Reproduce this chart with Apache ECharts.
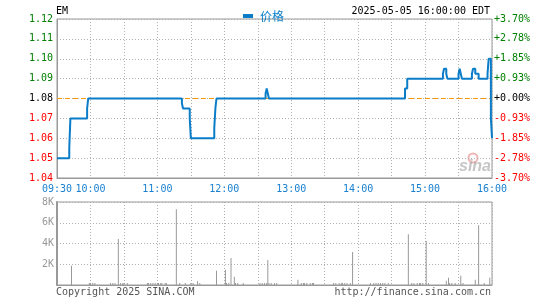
<!DOCTYPE html>
<html>
<head>
<meta charset="utf-8">
<script src="https://cdn.jsdelivr.net/npm/echarts@6/dist/echarts.min.js"></script>
<style>html,body{margin:0;padding:0;background:#fff}#c{width:545px;height:300px}</style>
</head>
<body>
<div id="c"></div>
<script>
// ---- data (minutes after 09:30) ----
var symbol = 'EM';
var stamp = '2025-05-05 16:00:00 EDT';
var seriesName = '价格';
var prevClose = 1.08;
var priceTimes = [0, 11, 12, 27, 28, 112, 113, 119, 120, 141, 142, 143, 187, 188, 189, 190, 312, 314, 346, 347, 349, 350, 360, 361, 362, 363, 372, 373, 375, 378, 386, 387, 389, 390];
var prices     = [1.05, 1.055, 1.07, 1.075, 1.08, 1.0775, 1.075, 1.07, 1.06, 1.065, 1.075, 1.08, 1.0825, 1.085, 1.0825, 1.08, 1.085, 1.09, 1.0925, 1.095, 1.0925, 1.09, 1.0925, 1.095, 1.0925, 1.09, 1.0925, 1.095, 1.0925, 1.09, 1.0925, 1.10, 1.07, 1.06];
var volTimes = [13, 29, 30, 32, 34, 48, 50, 52, 55, 57, 59, 60, 63, 81, 82, 84, 86, 88, 90, 91, 93, 94, 97, 98, 107, 110, 115, 120, 122, 126, 128, 143, 151, 152, 154, 156, 159, 160, 162, 167, 182, 184, 186, 188, 189, 190, 192, 195, 197, 216, 219, 221, 222, 224, 227, 229, 230, 248, 250, 253, 255, 256, 258, 260, 263, 265, 281, 284, 286, 288, 290, 292, 294, 297, 315, 318, 320, 323, 325, 326, 328, 331, 333, 349, 351, 352, 354, 357, 362, 364, 375, 378, 383, 388];
var volumes  = [1850, 200, 200, 200, 200, 200, 200, 200, 4430, 200, 200, 200, 200, 200, 200, 200, 200, 200, 200, 200, 200, 200, 200, 200, 7300, 200, 200, 200, 200, 350, 200, 1370, 1460, 200, 200, 2610, 800, 200, 200, 200, 200, 200, 200, 200, 2420, 200, 200, 200, 200, 500, 200, 200, 200, 200, 200, 200, 200, 200, 200, 200, 200, 200, 200, 200, 200, 3190, 200, 200, 200, 200, 200, 200, 200, 200, 4900, 200, 200, 200, 200, 200, 200, 4240, 200, 400, 700, 200, 200, 200, 900, 200, 500, 5770, 200, 700];
var timeTickLabels = ['09:30', '10:00', '11:00', '12:00', '13:00', '14:00', '15:00', '16:00'];
var timeTickMinutes = [0, 30, 90, 150, 210, 270, 330, 390];
var copyright = 'Copyright 2025 SINA.COM';
var siteUrl = 'http://finance.sina.com.cn';

var MONO = 'DejaVu Sans Mono, Liberation Mono, monospace';
var BLUE = '#0b7dc8';
var LABEL_BLUE = '#1a80d0';

function priceColor(v) {
  var d = Math.round((v - prevClose) * 10000);
  return d > 0 ? '#008000' : (d < 0 ? '#ff0000' : '#000000');
}
function pct(v) {
  var p = (v - prevClose) / prevClose * 100;
  var s = Math.abs(p).toFixed(2);
  return (Math.round(p * 100) < 0 ? '-' : '+') + s + '%';
}

var chart = echarts.init(document.getElementById('c'), null, {renderer: 'canvas'});
var gridLine = {show: true, lineStyle: {color: '#b0b0b0', type: [1, 2], width: 1}};

var option = {
  animation: false,
  backgroundColor: '#fff',
  legend: {
    left: 238, top: 5, icon: 'rect', itemWidth: 10, itemHeight: 4, itemGap: 4,
    data: [seriesName],
    textStyle: {color: BLUE, fontSize: 12, fontFamily: 'Noto Sans CJK SC', padding: [0, 0, 0, 2]}
  },
  grid: [
    {left: 57, right: 53, top: 19, height: 159, show: true, borderColor: '#999', borderWidth: 1, backgroundColor: 'transparent'},
    {left: 57, right: 53, top: 202, height: 83, show: true, borderColor: '#999', borderWidth: 1, backgroundColor: 'transparent'}
  ],
  xAxis: [
    {
      type: 'value', gridIndex: 0, min: 0, max: 390, interval: 30,
      axisLine: {show: true, lineStyle: {color: '#999'}}, axisTick: {show: false},
      splitLine: gridLine,
      axisLabel: {
        margin: 6, color: LABEL_BLUE, fontFamily: MONO, fontSize: 10, showMaxLabel: true, showMinLabel: true,
        formatter: function (v) {
          var i = timeTickMinutes.indexOf(v);
          return i >= 0 ? timeTickLabels[i] : '';
        }
      }
    },
    {
      type: 'value', gridIndex: 1, min: 0, max: 390, interval: 30,
      axisLine: {show: true, lineStyle: {color: '#999'}}, axisTick: {show: false},
      splitLine: gridLine, axisLabel: {show: false}
    }
  ],
  yAxis: [
    {
      type: 'value', gridIndex: 0, min: 1.04, max: 1.12, interval: 0.01, position: 'left',
      axisLine: {show: true, lineStyle: {color: '#999', width: 1}}, axisTick: {show: false},
      splitLine: gridLine,
      axisLabel: {
        margin: 4, fontFamily: MONO, fontSize: 10, showMaxLabel: true, showMinLabel: true,
        formatter: function (v) { return v.toFixed(2); },
        color: function (v) { return priceColor(Number(v)); }
      }
    },
    {
      type: 'value', gridIndex: 0, min: 1.04, max: 1.12, interval: 0.01, position: 'right',
      axisLine: {show: false}, axisTick: {show: false}, splitLine: {show: false},
      axisLabel: {
        margin: 2, fontFamily: MONO, fontSize: 10, showMaxLabel: true, showMinLabel: true,
        formatter: function (v) { return pct(v); },
        color: function (v) { return priceColor(Number(v)); }
      }
    },
    {
      type: 'value', gridIndex: 1, min: 0, max: 8000, interval: 2000,
      axisLine: {show: true, lineStyle: {color: '#999', width: 2}}, axisTick: {show: false},
      splitLine: gridLine,
      axisLabel: {
        margin: 3, color: '#999', fontFamily: MONO, fontSize: 10, showMaxLabel: true,
        formatter: function (v) { return v === 0 ? '' : (v / 1000) + 'K'; }
      }
    }
  ],
  series: [
    {
      name: seriesName, type: 'line', xAxisIndex: 0, yAxisIndex: 0, step: 'end',
      symbol: 'none', color: BLUE, lineStyle: {color: BLUE, width: 2}, z: 5,
      data: priceTimes.map(function (t, i) { return [t, prices[i]]; }),
      markLine: {
        silent: true, symbol: 'none', label: {show: false},
        lineStyle: {color: '#ff9900', type: [5, 3], width: 1},
        data: [{yAxis: prevClose}]
      }
    },
    {
      name: 'vol', type: 'bar', xAxisIndex: 1, yAxisIndex: 2, barWidth: 1,
      itemStyle: {color: '#999'},
      data: volTimes.map(function (t, i) { return [t, volumes[i]]; })
    }
  ],
  graphic: [
    {type: 'text', left: 56, top: 6, style: {text: symbol, font: '10px ' + MONO, fill: '#000'}},
    {type: 'text', right: 55, top: 6, style: {text: stamp, font: '10px ' + MONO, fill: '#000'}},
    {type: 'text', left: 56, top: 287, style: {text: copyright, font: '10px ' + MONO, fill: '#555'}},
    {type: 'text', right: 54, top: 287, style: {text: siteUrl, font: '10px ' + MONO, fill: '#555'}},
    {type: 'circle', shape: {cx: 473, cy: 158, r: 4.5}, style: {fill: 'none', stroke: 'rgba(230,120,120,0.55)', lineWidth: 2}, z: 0},
    {type: 'text', left: 459, top: 159, z: 0, style: {text: 'sina', font: 'italic bold 16px Liberation Sans, sans-serif', fill: 'rgba(150,150,150,0.55)'}}
  ]
};
chart.setOption(option);
</script>
</body>
</html>
